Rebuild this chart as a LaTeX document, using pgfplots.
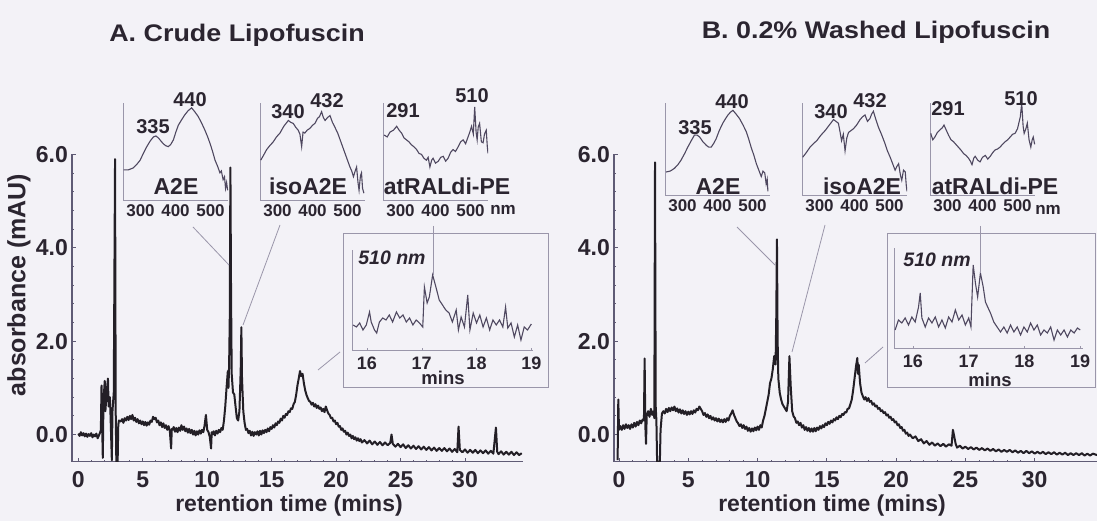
\documentclass[border=0pt]{standalone}
\usepackage{fontspec}
\setmainfont{Liberation Sans}
\newfontfamily\titlefont{Liberation Sans}[FakeStretch=1.12]
\usepackage{pgfplots}
\pgfplotsset{compat=1.18}

\definecolor{txt}{HTML}{2B2530}
\definecolor{trc}{HTML}{231F26}
\definecolor{axc}{HTML}{5F5B75}
\definecolor{inc}{HTML}{9A96AA}
\definecolor{spc}{HTML}{4F4860}
\definecolor{bgc}{HTML}{F3F2F7}

\newcommand{\fs}[1]{\fontsize{#1}{#1}\selectfont\bfseries}

\pgfplotsset{
 mainax/.style={scale only axis, anchor=south west, height=307.1pt,
   ymin=-0.58, ymax=6.0, xmax=34.5,
   axis lines*=left, axis line style={axc, line width=1.1pt},
   xtick={0,5,10,15,20,25,30}, ytick={0,2,4,6}, yticklabels={0.0,2.0,4.0,6.0},
   minor x tick num=4, minor y tick num=4,
   tick align=inside, major tick length=4pt, minor tick length=2pt,
   tick style={axc, line width=0.8pt},
   /pgf/number format/assume math mode=true,
   xticklabel style={font=\fs{23}, text=txt, inner sep=0pt, yshift=-10pt},
   yticklabel style={font=\fs{23}, text=txt, inner sep=0pt, xshift=-4pt}},
 specax/.style={scale only axis, anchor=south west, width=105pt,
   xmin=250, xmax=550, ymin=0, ymax=1,
   axis lines*=left, axis line style={inc, line width=0.8pt},
   xtick={300,400,500}, ytick=\empty, major tick length=0pt,
   /pgf/number format/assume math mode=true,
   xticklabel style={font=\fs{17}, text=txt, inner sep=0pt, yshift=-4pt}},
 nmax/.style={scale only axis, anchor=south west, height=100pt,
   ymin=0, ymax=1,
   axis lines*=left, axis line style={inc, line width=0.8pt},
   xtick={16,17,18,19}, ytick=\empty, major tick length=2pt,
   tick style={inc}, tick align=inside,
   /pgf/number format/assume math mode=true,
   xticklabel style={font=\fs{18}, text=txt, inner sep=0pt, yshift=-7pt}},
}

\begin{document}
\begin{tikzpicture}
\path[use as bounding box, fill=bgc] (0pt,0pt) rectangle (1097pt,521pt);

% ================= Panel A main =================
\begin{axis}[mainax, at={(72pt,59.4pt)}, width=451pt, xmin=-0.49]
\addplot[trc, line width=2pt, line join=round] coordinates {
(0.0,0.02)(0.1,-0.03)(0.2,0.05)(0.3,-0.02)(0.4,0.03)(0.5,-0.04)(0.6,0.02)(0.7,-0.05)(0.8,0.01)(0.9,-0.03)
(1.0,0.03)(1.1,-0.06)(1.2,0.0)(1.3,-0.04)(1.4,0.02)(1.5,-0.08)(1.6,-0.02)(1.7,0.05)(1.75,0.1)(1.8,1.05)
(1.85,0.2)(1.9,-0.5)(1.95,0.7)(2.05,1.15)(2.1,0.5)(2.2,0.9)(2.3,1.2)(2.35,0.6)(2.45,0.8)(2.5,0.4)
(2.6,-0.55)(2.65,0.5)(2.75,0.9)(2.85,5.9)(2.9,0.5)(2.95,-0.6)(3.05,-0.6)(3.1,0.2)(3.15,0.3)
(3.3,0.28)(3.4,0.33)(3.5,0.25)(3.6,0.35)(3.7,0.3)(3.8,0.38)(3.9,0.31)(4.0,0.4)(4.1,0.33)(4.2,0.42)
(4.3,0.3)(4.4,0.36)(4.5,0.27)(4.6,0.33)(4.7,0.24)(4.8,0.3)(4.9,0.22)(5.0,0.28)(5.1,0.2)(5.2,0.27)
(5.3,0.19)(5.4,0.26)(5.5,0.21)(5.6,0.3)(5.7,0.27)(5.8,0.38)(5.9,0.33)(6.0,0.36)(6.1,0.26)(6.2,0.3)
(6.3,0.2)(6.4,0.26)(6.5,0.16)(6.6,0.24)(6.7,0.14)(6.8,0.2)(6.9,0.1)(7.0,0.18)(7.1,0.08)(7.2,-0.3)
(7.25,0.12)(7.3,0.1)(7.4,0.16)(7.5,0.06)(7.6,0.14)(7.7,0.05)(7.8,0.15)(7.9,0.08)(8.0,0.2)(8.1,0.1)
(8.2,0.17)(8.3,0.07)(8.4,0.13)(8.5,0.04)(8.6,0.12)(8.7,0.03)(8.8,0.1)(8.9,0.0)(9.0,0.08)(9.1,-0.02)
(9.2,0.07)(9.3,0.0)(9.4,0.09)(9.5,0.02)(9.6,0.1)(9.7,0.05)(9.8,0.2)(9.9,0.42)(10.0,0.1)(10.1,0.05)
(10.2,-0.05)(10.3,-0.3)(10.35,0.05)(10.4,0.0)(10.5,0.07)(10.6,-0.02)(10.7,0.08)(10.8,0.02)(10.9,0.1)(11.0,0.05)
(11.1,0.14)(11.2,0.1)(11.3,0.3)(11.4,0.6)(11.5,1.0)(11.6,1.36)(11.65,1.0)(11.7,1.5)(11.75,2.5)(11.8,5.72)
(11.85,3.0)(11.9,1.3)(12.0,0.9)(12.1,0.86)(12.2,0.6)(12.3,0.35)(12.4,0.3)(12.5,0.5)(12.6,1.4)(12.65,2.3)
(12.7,1.2)(12.8,0.5)(12.9,0.25)(13.0,0.1)(13.1,0.12)(13.2,0.03)(13.3,0.08)(13.4,-0.02)(13.5,0.06)(13.6,-0.03)
(13.7,0.05)(13.8,0.0)(13.9,0.07)(14.0,-0.02)(14.1,0.08)(14.2,0.0)(14.3,0.09)(14.4,0.03)(14.5,0.1)(14.6,0.05)
(14.7,0.13)(14.8,0.07)(14.9,0.16)(15.0,0.12)(15.1,0.2)(15.2,0.15)(15.3,0.24)(15.4,0.2)(15.5,0.28)(15.6,0.25)
(15.7,0.34)(15.8,0.3)(15.9,0.4)(16.0,0.36)(16.1,0.44)(16.2,0.42)(16.3,0.5)(16.4,0.48)(16.5,0.56)(16.6,0.55)
(16.7,0.65)(16.8,0.7)(16.9,0.85)(17.0,1.05)(17.1,1.2)(17.2,1.36)(17.3,1.25)(17.4,1.3)(17.5,1.1)(17.6,0.95)
(17.7,0.85)(17.8,0.78)(17.9,0.72)(18.0,0.7)(18.1,0.64)(18.2,0.68)(18.3,0.6)(18.4,0.65)(18.5,0.57)(18.6,0.62)
(18.7,0.55)(18.8,0.58)(18.9,0.5)(19.0,0.55)(19.1,0.48)(19.2,0.6)(19.3,0.52)(19.4,0.45)(19.5,0.42)(19.6,0.35)
(19.7,0.36)(19.8,0.28)(19.9,0.3)(20.0,0.22)(20.1,0.25)(20.2,0.17)(20.3,0.18)(20.4,0.1)(20.5,0.13)(20.6,0.06)
(20.7,0.08)(20.8,0.0)(20.9,0.04)(21.0,-0.03)(21.1,0.0)(21.2,-0.08)(21.3,-0.03)(21.4,-0.1)(21.5,-0.06)(21.6,-0.13)
(21.7,-0.08)(21.8,-0.14)(21.9,-0.1)(22.0,-0.17)(22.2,-0.12)(22.4,-0.19)(22.6,-0.13)(22.8,-0.21)(23.0,-0.15)(23.2,-0.22)
(23.4,-0.16)(23.6,-0.23)(23.8,-0.17)(24.0,-0.23)(24.2,-0.18)(24.3,0.0)(24.4,-0.2)(24.6,-0.26)(24.8,-0.2)(25.0,-0.27)
(25.2,-0.21)(25.4,-0.29)(25.6,-0.23)(25.8,-0.3)(26.0,-0.24)(26.2,-0.31)(26.4,-0.25)(26.6,-0.32)(26.8,-0.26)(27.0,-0.33)
(27.2,-0.27)(27.4,-0.34)(27.6,-0.28)(27.8,-0.35)(28.0,-0.29)(28.2,-0.35)(28.4,-0.29)(28.6,-0.36)(28.8,-0.3)(29.0,-0.37)
(29.2,-0.31)(29.4,-0.38)(29.5,0.17)(29.6,-0.33)(29.8,-0.38)(30.0,-0.32)(30.2,-0.39)(30.4,-0.33)(30.6,-0.39)(30.8,-0.33)
(31.0,-0.4)(31.2,-0.34)(31.4,-0.4)(31.6,-0.34)(31.8,-0.41)(32.0,-0.35)(32.2,-0.41)(32.4,0.15)(32.5,-0.37)(32.6,-0.42)
(32.8,-0.36)(33.0,-0.43)(33.2,-0.37)(33.4,-0.43)(33.6,-0.37)(33.8,-0.44)(34.0,-0.38)(34.2,-0.44)(34.4,-0.4)
};
\end{axis}

% ================= Panel B main =================
\begin{axis}[mainax, at={(614pt,59.4pt)}, width=483pt, xmin=-0.36]
\addplot[trc, line width=2pt, line join=round] coordinates {
(-0.1,-0.55)(-0.05,0.75)(0.0,0.1)(0.1,0.18)(0.2,0.1)(0.3,0.2)(0.4,0.12)(0.5,0.22)(0.6,0.14)(0.7,0.2)
(0.8,0.12)(0.9,0.22)(1.0,0.15)(1.1,0.25)(1.2,0.17)(1.3,0.27)(1.4,0.2)(1.5,0.3)(1.6,0.24)(1.7,0.32)
(1.8,0.3)(1.85,1.63)(1.9,0.2)(1.95,-0.2)(2.0,0.4)(2.1,0.5)(2.2,0.38)(2.3,0.55)(2.4,0.42)(2.5,0.5)
(2.55,0.35)(2.6,5.83)(2.65,0.6)(2.7,0.3)(2.75,-0.58)(2.95,-0.58)(3.0,0.1)(3.1,0.45)(3.2,0.5)(3.3,0.45)
(3.4,0.55)(3.5,0.48)(3.6,0.57)(3.7,0.5)(3.8,0.58)(3.9,0.52)(4.0,0.6)(4.1,0.5)(4.2,0.56)(4.3,0.47)
(4.4,0.54)(4.5,0.45)(4.6,0.52)(4.7,0.44)(4.8,0.5)(4.9,0.42)(5.0,0.49)(5.1,0.43)(5.2,0.5)(5.3,0.44)
(5.4,0.52)(5.5,0.47)(5.6,0.55)(5.7,0.52)(5.8,0.6)(5.9,0.55)(6.0,0.5)(6.1,0.42)(6.2,0.46)(6.3,0.38)
(6.4,0.43)(6.5,0.35)(6.6,0.4)(6.7,0.32)(6.8,0.37)(6.9,0.3)(7.0,0.35)(7.1,0.28)(7.2,0.34)(7.3,0.27)
(7.4,0.32)(7.5,0.26)(7.6,0.33)(7.7,0.27)(7.8,0.35)(7.9,0.3)(8.0,0.4)(8.1,0.45)(8.2,0.52)(8.3,0.42)
(8.4,0.35)(8.5,0.28)(8.6,0.24)(8.7,0.18)(8.8,0.22)(8.9,0.14)(9.0,0.2)(9.1,0.12)(9.2,0.17)(9.3,0.08)
(9.4,0.14)(9.5,0.06)(9.6,0.13)(9.7,0.07)(9.8,0.15)(9.9,0.09)(10.0,0.17)(10.1,0.1)(10.2,0.2)(10.3,0.15)
(10.4,0.3)(10.5,0.4)(10.6,0.55)(10.7,0.7)(10.8,0.85)(10.9,1.1)(11.0,1.2)(11.1,1.4)(11.2,1.68)(11.3,1.5)
(11.35,2.5)(11.4,4.18)(11.45,2.0)(11.5,1.2)(11.6,0.9)(11.7,0.75)(11.8,0.65)(11.9,0.6)(12.0,0.55)(12.1,0.5)
(12.2,0.7)(12.3,1.68)(12.4,1.0)(12.5,0.5)(12.6,0.39)(12.7,0.35)(12.8,0.25)(12.9,0.28)(13.0,0.2)(13.1,0.25)
(13.2,0.15)(13.3,0.2)(13.4,0.1)(13.5,0.16)(13.6,0.08)(13.7,0.14)(13.8,0.06)(13.9,0.13)(14.0,0.06)(14.1,0.14)
(14.2,0.07)(14.3,0.15)(14.4,0.1)(14.5,0.18)(14.6,0.13)(14.7,0.2)(14.8,0.16)(14.9,0.24)(15.0,0.2)(15.1,0.27)
(15.2,0.23)(15.3,0.3)(15.4,0.26)(15.5,0.33)(15.6,0.3)(15.7,0.37)(15.8,0.33)(15.9,0.4)(16.0,0.37)(16.1,0.44)
(16.2,0.42)(16.3,0.48)(16.4,0.47)(16.5,0.55)(16.6,0.56)(16.7,0.65)(16.8,0.75)(16.9,0.95)(17.0,1.2)(17.1,1.45)
(17.2,1.64)(17.25,1.3)(17.3,1.5)(17.4,1.1)(17.5,0.9)(17.6,0.82)(17.7,0.75)(17.8,0.8)(17.9,0.72)(18.0,0.78)
(18.1,0.7)(18.2,0.72)(18.3,0.64)(18.4,0.67)(18.5,0.6)(18.6,0.62)(18.7,0.55)(18.8,0.57)(18.9,0.5)(19.0,0.52)
(19.1,0.46)(19.2,0.48)(19.3,0.41)(19.4,0.43)(19.5,0.36)(19.6,0.38)(19.7,0.31)(19.8,0.33)(19.9,0.26)(20.0,0.28)
(20.1,0.2)(20.2,0.22)(20.3,0.14)(20.4,0.16)(20.5,0.08)(20.6,0.1)(20.7,0.02)(20.8,0.04)(20.9,-0.03)(21.0,0.0)
(21.2,-0.08)(21.4,-0.04)(21.6,-0.14)(21.8,-0.1)(22.0,-0.19)(22.2,-0.14)(22.4,-0.22)(22.6,-0.17)(22.8,-0.24)(23.0,-0.19)
(23.2,-0.25)(23.4,-0.2)(23.6,-0.26)(23.8,-0.21)(24.0,-0.24)(24.1,0.1)(24.2,-0.05)(24.3,-0.2)(24.4,-0.28)(24.6,-0.24)
(24.8,-0.3)(25.0,-0.26)(25.2,-0.31)(25.4,-0.27)(25.6,-0.32)(25.8,-0.28)(26.0,-0.33)(26.2,-0.29)(26.4,-0.34)(26.6,-0.3)
(26.8,-0.35)(27.0,-0.31)(27.2,-0.36)(27.4,-0.32)(27.6,-0.37)(27.8,-0.33)(28.0,-0.37)(28.2,-0.33)(28.4,-0.38)(28.6,-0.34)
(28.8,-0.39)(29.0,-0.35)(29.2,-0.4)(29.4,-0.35)(29.6,-0.4)(29.8,-0.36)(30.0,-0.41)(30.2,-0.37)(30.4,-0.41)(30.6,-0.37)
(30.8,-0.42)(31.0,-0.38)(31.2,-0.42)(31.4,-0.38)(31.6,-0.43)(31.8,-0.39)(32.0,-0.43)(32.2,-0.39)(32.4,-0.44)(32.6,-0.4)
(32.8,-0.44)(33.0,-0.4)(33.2,-0.44)(33.4,-0.4)(33.6,-0.45)(33.8,-0.41)(34.0,-0.45)(34.2,-0.41)(34.5,-0.44)
};
\end{axis}

% ================= Panel A spectra =================
\begin{axis}[specax, at={(123pt,321pt)}, height=97pt]
\addplot[spc, line width=1.1pt] coordinates {
(252,0.31)(265,0.31)(279,0.33)(290,0.37)(299,0.41)(308,0.48)(318,0.55)(328,0.61)(337,0.65)(344,0.66)(351,0.64)
(358,0.61)(365,0.58)(372,0.56)(379,0.55)(386,0.57)(394,0.62)(401,0.7)(408,0.77)(418,0.83)(427,0.88)(436,0.92)
(446,0.95)(455,0.91)(465,0.86)(475,0.79)(484,0.72)(492,0.65)(499,0.58)(506,0.5)(513,0.41)(520,0.35)(527,0.28)
(531,0.3)(536,0.21)(540,0.24)(543,0.12)(546,0.18)(549,0.1)
};
\end{axis}
\begin{axis}[specax, at={(260pt,321pt)}, height=97pt]
\addplot[spc, line width=1.1pt] coordinates {
(252,0.41)(260,0.46)(269,0.52)(278,0.56)(288,0.6)(297,0.65)(307,0.69)(318,0.76)(331,0.82)(338,0.8)(345,0.79)
(352,0.75)(359,0.72)(364,0.68)(369,0.55)(373,0.7)(378,0.69)(385,0.72)(393,0.74)(400,0.77)(407,0.79)(414,0.84)
(420,0.86)(426,0.91)(431,0.85)(436,0.82)(443,0.85)(450,0.87)(457,0.8)(464,0.75)(472,0.69)(479,0.62)(486,0.55)
(493,0.48)(500,0.41)(507,0.34)(512,0.3)(517,0.24)(522,0.3)(526,0.34)(530,0.18)(533,0.1)(537,0.25)(540,0.28)
(543,0.12)(547,0.07)
};
\end{axis}
\begin{axis}[specax, at={(383pt,321pt)}, height=97pt]
\addplot[spc, line width=1.1pt] coordinates {
(253,0.67)(262,0.65)(270,0.7)(280,0.72)(289,0.76)(296,0.72)(303,0.69)(310,0.64)(317,0.62)(324,0.6)(331,0.57)
(338,0.55)(346,0.52)(353,0.48)(360,0.47)(367,0.43)(374,0.41)(379,0.44)(384,0.34)(389,0.41)(393,0.43)(400,0.38)
(408,0.4)(415,0.44)(422,0.45)(429,0.4)(436,0.43)(443,0.49)(450,0.52)(457,0.5)(465,0.55)(472,0.6)(479,0.62)
(486,0.58)(493,0.65)(498,0.7)(503,0.76)(508,0.68)(512,0.96)(516,0.7)(519,0.62)(522,0.75)(526,0.79)(531,0.6)
(536,0.59)(540,0.68)(545,0.72)(548,0.55)(550,0.48)
};
\end{axis}

% ================= Panel B spectra =================
\begin{axis}[specax, at={(665pt,326pt)}, height=92pt]
\addplot[spc, line width=1.1pt] coordinates {
(253,0.25)(265,0.26)(277,0.29)(287,0.33)(296,0.38)(306,0.45)(315,0.52)(325,0.59)(334,0.65)(342,0.65)(349,0.63)
(358,0.58)(368,0.54)(375,0.52)(382,0.52)(389,0.56)(396,0.61)(405,0.7)(415,0.78)(423,0.83)(430,0.87)(437,0.9)
(444,0.92)(453,0.88)(463,0.83)(473,0.76)(482,0.69)(489,0.61)(496,0.52)(504,0.43)(511,0.34)(518,0.27)(525,0.2)
(530,0.26)(535,0.24)(539,0.12)(542,0.17)(544,0.04)
};
\end{axis}
\begin{axis}[specax, at={(802pt,326pt)}, height=92pt]
\addplot[spc, line width=1.1pt] coordinates {
(252,0.41)(262,0.46)(273,0.52)(283,0.56)(292,0.59)(304,0.65)(316,0.7)(328,0.76)(340,0.82)(347,0.8)(354,0.78)
(359,0.68)(363,0.59)(368,0.66)(373,0.48)(378,0.62)(383,0.68)(390,0.7)(397,0.72)(406,0.76)(416,0.82)(423,0.85)
(430,0.87)(437,0.8)(444,0.83)(449,0.88)(454,0.91)(461,0.82)(468,0.74)(477,0.66)(487,0.56)(494,0.48)(502,0.41)
(509,0.34)(516,0.27)(521,0.31)(526,0.34)(531,0.22)(535,0.16)(540,0.27)(545,0.25)(548,0.1)(550,0.04)
};
\end{axis}
\begin{axis}[specax, at={(930pt,326pt)}, height=92pt]
\addplot[spc, line width=1.1pt] coordinates {
(252,0.67)(258,0.6)(264,0.63)(271,0.68)(279,0.71)(285,0.73)(290,0.76)(297,0.7)(303,0.65)(310,0.6)(317,0.58)
(324,0.55)(331,0.52)(338,0.49)(346,0.45)(353,0.43)(360,0.4)(365,0.37)(370,0.33)(375,0.4)(379,0.42)(386,0.38)
(393,0.36)(400,0.41)(408,0.43)(415,0.39)(422,0.42)(429,0.46)(436,0.49)(443,0.5)(450,0.52)(457,0.55)(465,0.58)
(472,0.6)(479,0.63)(486,0.66)(493,0.67)(500,0.72)(508,0.85)(512,1.0)(516,0.75)(519,0.67)(524,0.72)(528,0.78)
(533,0.6)(538,0.52)(542,0.6)(545,0.63)(549,0.55)
};
\end{axis}

% ================= 510 nm insets =================
\begin{axis}[nmax, at={(352pt,171pt)}, width=181pt, xmin=15.73, xmax=19.03]
\addplot[spc, line width=1.1pt] coordinates {
(15.75,0.25)(15.81,0.23)(15.87,0.27)(15.93,0.2)(15.99,0.25)(16.05,0.38)(16.08,0.28)(16.14,0.2)(16.18,0.17)(16.23,0.28)
(16.29,0.32)(16.35,0.3)(16.41,0.35)(16.47,0.28)(16.54,0.38)(16.6,0.32)(16.66,0.35)(16.72,0.28)(16.78,0.32)(16.84,0.25)
(16.9,0.3)(16.96,0.27)(17.02,0.23)(17.05,0.63)(17.1,0.47)(17.14,0.53)(17.2,0.75)(17.26,0.63)(17.32,0.5)(17.38,0.45)
(17.44,0.4)(17.5,0.37)(17.56,0.28)(17.63,0.4)(17.67,0.2)(17.72,0.33)(17.78,0.23)(17.84,0.55)(17.88,0.2)(17.94,0.37)
(18.0,0.27)(18.06,0.35)(18.12,0.23)(18.18,0.32)(18.24,0.2)(18.3,0.3)(18.36,0.25)(18.42,0.3)(18.48,0.23)(18.53,0.43)
(18.57,0.22)(18.63,0.27)(18.69,0.13)(18.75,0.25)(18.81,0.1)(18.87,0.23)(18.93,0.2)(19.0,0.26)
};
\end{axis}
\begin{axis}[nmax, at={(894pt,173pt)}, width=189pt, xmin=15.66, xmax=19.05]
\addplot[spc, line width=1.1pt] coordinates {
(15.68,0.18)(15.74,0.28)(15.8,0.25)(15.86,0.3)(15.92,0.23)(15.98,0.31)(16.04,0.26)(16.1,0.41)(16.13,0.55)(16.16,0.3)
(16.22,0.21)(16.28,0.3)(16.34,0.25)(16.4,0.31)(16.46,0.21)(16.52,0.28)(16.58,0.2)(16.64,0.31)(16.7,0.26)(16.76,0.38)
(16.82,0.28)(16.88,0.33)(16.94,0.23)(17.0,0.3)(17.04,0.21)(17.08,0.83)(17.12,0.65)(17.16,0.51)(17.21,0.75)(17.26,0.61)
(17.3,0.46)(17.34,0.41)(17.39,0.35)(17.45,0.26)(17.51,0.21)(17.57,0.16)(17.63,0.21)(17.69,0.15)(17.75,0.23)(17.81,0.16)
(17.87,0.21)(17.93,0.13)(17.99,0.21)(18.05,0.16)(18.11,0.25)(18.17,0.18)(18.23,0.23)(18.29,0.13)(18.35,0.18)(18.41,0.15)
(18.47,0.21)(18.53,0.08)(18.59,0.18)(18.65,0.13)(18.71,0.18)(18.77,0.11)(18.83,0.18)(18.89,0.15)(18.95,0.2)(19.0,0.18)
};
\end{axis}

% ================= annotations (pixel frame) =================
\begin{scope}[x=1pt, y=-1pt, shift={(0pt,521pt)}]
\draw[inc, line width=0.8pt] (343,233) rectangle (548,387);
\draw[inc, line width=0.8pt] (887,233) rectangle (1095,387);
\draw[inc, line width=0.8pt] (193,227) -- (229,265);
\draw[inc, line width=0.8pt] (280,225) -- (243,325);
\draw[inc, line width=0.8pt] (433,226) -- (433,275);
\draw[inc, line width=0.8pt] (340,352) -- (318,370);
\draw[inc, line width=0.8pt] (737,227) -- (775,265);
\draw[inc, line width=0.8pt] (825,225) -- (792,352);
\draw[inc, line width=0.8pt] (980,226) -- (980,273);
\draw[inc, line width=0.8pt] (883,347) -- (865,363);

\node[text=txt, font={\titlefont\fontsize{24}{24}\selectfont\bfseries}] at (237,35) {A. Crude Lipofuscin};
\node[text=txt, font={\titlefont\fontsize{24}{24}\selectfont\bfseries}] at (876,32) {B. 0.2\% Washed Lipofuscin};
\node[text=txt, font=\fs{25}, rotate=90] at (19,285) {absorbance (mAU)};
\node[text=txt, font=\fs{23}] at (289,506) {retention time (mins)};
\node[text=txt, font=\fs{23}] at (832,506) {retention time (mins)};

\node[text=txt, font=\fs{20}] at (153,127) {335};
\node[text=txt, font=\fs{20}] at (190,100) {440};
\node[text=txt, font=\fs{23}] at (176,186) {A2E};
\node[text=txt, font=\fs{20}] at (288,112) {340};
\node[text=txt, font=\fs{20}] at (327,101) {432};
\node[text=txt, font=\fs{23}] at (308,186) {isoA2E};
\node[text=txt, font=\fs{20}] at (403,111) {291};
\node[text=txt, font=\fs{20}] at (472,96) {510};
\node[text=txt, font=\fs{23}] at (447,186) {atRALdi-PE};
\node[text=txt, font=\fs{17}] at (503,210) {nm};
\node[text=txt, font=\fs{20}] at (695,128) {335};
\node[text=txt, font=\fs{20}] at (732,102) {440};
\node[text=txt, font=\fs{23}] at (718,186) {A2E};
\node[text=txt, font=\fs{20}] at (831,112) {340};
\node[text=txt, font=\fs{20}] at (870,101) {432};
\node[text=txt, font=\fs{23}] at (862,186) {isoA2E};
\node[text=txt, font=\fs{20}] at (948,109) {291};
\node[text=txt, font=\fs{20}] at (1021,99) {510};
\node[text=txt, font=\fs{23}] at (995,186) {atRALdi-PE};
\node[text=txt, font=\fs{17}] at (1048,210) {nm};
\node[text=txt, font={\fontsize{19.5}{19.5}\selectfont\bfseries\itshape}] at (392,258) {510 nm};
\node[text=txt, font=\fs{18.5}] at (443,378) {mins};
\node[text=txt, font={\fontsize{19.5}{19.5}\selectfont\bfseries\itshape}] at (937,260) {510 nm};
\node[text=txt, font=\fs{18.5}] at (990,380) {mins};
\end{scope}
\end{tikzpicture}
\end{document}
